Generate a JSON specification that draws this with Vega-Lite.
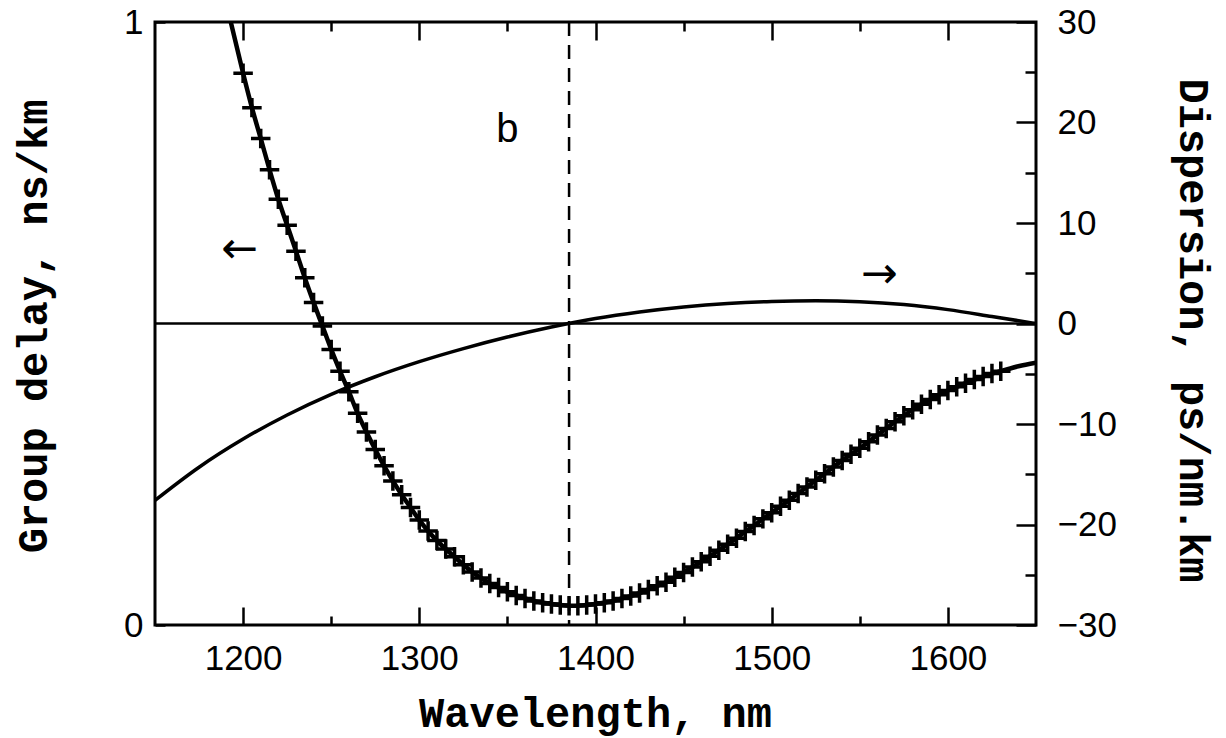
{
  "$schema": "https://vega.github.io/schema/vega-lite/v6.json",
  "width": 881,
  "height": 603,
  "autosize": {"type": "none"},
  "padding": {"left": 155, "top": 22, "right": 190, "bottom": 113},
  "background": "white",
  "config": {
    "view": {"stroke": "black", "strokeWidth": 3},
    "axis": {
      "domain": false,
      "grid": false,
      "tickColor": "black",
      "tickWidth": 2.5,
      "labelColor": "black",
      "labelFont": "Liberation Sans",
      "labelFontSize": 35,
      "titleColor": "black",
      "titleFont": "Liberation Mono",
      "titleFontWeight": "bold",
      "titleFontSize": 42
    }
  },
  "datasets": {
    "gd": [
      {"wl": 1193, "gd": 1.0},
      {"wl": 1200, "gd": 0.915}, {"wl": 1205, "gd": 0.858}, {"wl": 1210, "gd": 0.807}, {"wl": 1215, "gd": 0.755},
      {"wl": 1220, "gd": 0.706}, {"wl": 1225, "gd": 0.663}, {"wl": 1230, "gd": 0.620}, {"wl": 1235, "gd": 0.576},
      {"wl": 1240, "gd": 0.535}, {"wl": 1245, "gd": 0.496}, {"wl": 1250, "gd": 0.457}, {"wl": 1255, "gd": 0.421},
      {"wl": 1260, "gd": 0.387}, {"wl": 1265, "gd": 0.351}, {"wl": 1270, "gd": 0.320}, {"wl": 1275, "gd": 0.291},
      {"wl": 1280, "gd": 0.264}, {"wl": 1285, "gd": 0.239}, {"wl": 1290, "gd": 0.216}, {"wl": 1295, "gd": 0.195},
      {"wl": 1300, "gd": 0.174}, {"wl": 1305, "gd": 0.156}, {"wl": 1310, "gd": 0.140}, {"wl": 1315, "gd": 0.126},
      {"wl": 1320, "gd": 0.113}, {"wl": 1325, "gd": 0.100}, {"wl": 1330, "gd": 0.088}, {"wl": 1335, "gd": 0.078},
      {"wl": 1340, "gd": 0.069}, {"wl": 1345, "gd": 0.062}, {"wl": 1350, "gd": 0.055}, {"wl": 1355, "gd": 0.049},
      {"wl": 1360, "gd": 0.044}, {"wl": 1365, "gd": 0.040}, {"wl": 1370, "gd": 0.037}, {"wl": 1375, "gd": 0.035},
      {"wl": 1380, "gd": 0.033}, {"wl": 1385, "gd": 0.032}, {"wl": 1390, "gd": 0.032}, {"wl": 1395, "gd": 0.033},
      {"wl": 1400, "gd": 0.035}, {"wl": 1405, "gd": 0.037}, {"wl": 1410, "gd": 0.040}, {"wl": 1415, "gd": 0.044},
      {"wl": 1420, "gd": 0.048}, {"wl": 1425, "gd": 0.053}, {"wl": 1430, "gd": 0.059}, {"wl": 1435, "gd": 0.065},
      {"wl": 1440, "gd": 0.071}, {"wl": 1445, "gd": 0.079}, {"wl": 1450, "gd": 0.087}, {"wl": 1455, "gd": 0.096},
      {"wl": 1460, "gd": 0.105}, {"wl": 1465, "gd": 0.114}, {"wl": 1470, "gd": 0.124}, {"wl": 1475, "gd": 0.134},
      {"wl": 1480, "gd": 0.144}, {"wl": 1485, "gd": 0.155}, {"wl": 1490, "gd": 0.165}, {"wl": 1495, "gd": 0.176},
      {"wl": 1500, "gd": 0.186}, {"wl": 1505, "gd": 0.197}, {"wl": 1510, "gd": 0.207}, {"wl": 1515, "gd": 0.218},
      {"wl": 1520, "gd": 0.229}, {"wl": 1525, "gd": 0.240}, {"wl": 1530, "gd": 0.251}, {"wl": 1535, "gd": 0.262},
      {"wl": 1540, "gd": 0.273}, {"wl": 1545, "gd": 0.283}, {"wl": 1550, "gd": 0.293}, {"wl": 1555, "gd": 0.304},
      {"wl": 1560, "gd": 0.315}, {"wl": 1565, "gd": 0.326}, {"wl": 1570, "gd": 0.337}, {"wl": 1575, "gd": 0.347},
      {"wl": 1580, "gd": 0.357}, {"wl": 1585, "gd": 0.366}, {"wl": 1590, "gd": 0.374}, {"wl": 1595, "gd": 0.382},
      {"wl": 1600, "gd": 0.389}, {"wl": 1605, "gd": 0.395}, {"wl": 1610, "gd": 0.401}, {"wl": 1615, "gd": 0.407},
      {"wl": 1620, "gd": 0.412}, {"wl": 1625, "gd": 0.417}, {"wl": 1630, "gd": 0.421},
      {"wl": 1640, "gd": 0.429}, {"wl": 1650, "gd": 0.435}
    ],
    "disp": [
      {"wl": 1150, "d": -17.6}, {"wl": 1175, "d": -14.3}, {"wl": 1200, "d": -11.5}, {"wl": 1225, "d": -9.1},
      {"wl": 1250, "d": -7.05}, {"wl": 1275, "d": -5.3}, {"wl": 1300, "d": -3.8}, {"wl": 1325, "d": -2.5},
      {"wl": 1350, "d": -1.35}, {"wl": 1375, "d": -0.35}, {"wl": 1400, "d": 0.5}, {"wl": 1425, "d": 1.15},
      {"wl": 1450, "d": 1.65}, {"wl": 1475, "d": 2.0}, {"wl": 1500, "d": 2.2}, {"wl": 1525, "d": 2.27},
      {"wl": 1550, "d": 2.17}, {"wl": 1575, "d": 1.88}, {"wl": 1600, "d": 1.38}, {"wl": 1625, "d": 0.7},
      {"wl": 1650, "d": 0.0}
    ],
    "notes": [
      {"wl": 1350, "gd": 0.821, "t": "b"},
      {"wl": 1198, "gd": 0.622, "t": "←"},
      {"wl": 1561, "gd": 0.580, "t": "→"}
    ]
  },
  "layer": [
    {
      "data": {"name": "gd"},
      "mark": {"type": "line", "color": "black", "strokeWidth": 4.5, "interpolate": "monotone", "clip": true},
      "encoding": {
        "x": {
          "field": "wl", "type": "quantitative",
          "scale": {"domain": [1150, 1650], "nice": false, "zero": false},
          "axis": {
            "orient": "bottom",
            "values": [1200, 1300, 1400, 1500, 1600],
            "format": "d",
            "offset": -18,
            "tickSize": 18,
            "labelPadding": 16,
            "title": "Wavelength, nm",
            "titleX": 440,
            "titleY": 119,
            "titleBaseline": "alphabetic",
            "titleAlign": "center"
          }
        },
        "y": {
          "field": "gd", "type": "quantitative",
          "scale": {"domain": [0, 1], "nice": false},
          "axis": {
            "orient": "left",
            "values": [0, 0.1, 0.2, 0.3, 0.4, 0.5, 0.6, 0.7, 0.8, 0.9, 1],
            "format": "d",
            "offset": -10,
            "tickSize": 10,
            "labelExpr": "datum.value === 0 || datum.value === 1 ? datum.label : ''",
            "labelPadding": 12,
            "title": "Group delay, ns/km",
            "titleX": -132,
            "titleY": 304,
            "titleAngle": -90,
            "titleAlign": "center",
            "titleBaseline": "middle"
          }
        }
      }
    },
    {
      "data": {"name": "gd"},
      "transform": [{"filter": "datum.wl >= 1200 && datum.wl <= 1630"}],
      "mark": {"type": "point", "shape": "M-1,0H1M0,-1V1", "size": 380, "filled": false, "stroke": "black", "strokeWidth": 3.5, "opacity": 1},
      "encoding": {
        "x": {
          "field": "wl", "type": "quantitative",
          "scale": {"domain": [1150, 1650], "nice": false, "zero": false},
          "axis": {"orient": "bottom", "values": [1250, 1350, 1450, 1550], "offset": -9, "tickSize": 9, "labels": false, "title": null}
        },
        "y": {"field": "gd", "type": "quantitative", "scale": {"domain": [0, 1], "nice": false}, "axis": null}
      }
    },
    {
      "data": {"name": "disp"},
      "mark": {"type": "line", "color": "black", "strokeWidth": 3.5, "interpolate": "monotone"},
      "encoding": {
        "x": {"field": "wl", "type": "quantitative", "scale": {"domain": [1150, 1650], "nice": false, "zero": false}, "axis": null},
        "y": {
          "field": "d", "type": "quantitative",
          "scale": {"domain": [-30, 30], "nice": false},
          "axis": {
            "orient": "right",
            "values": [-30, -20, -10, 0, 10, 20, 30],
            "format": "d",
            "offset": -20,
            "tickSize": 20,
            "labelPadding": 21,
            "title": "Dispersion, ps/nm.km",
            "titleX": 176,
            "titleY": 308,
            "titleAngle": 90,
            "titleAlign": "center",
            "titleBaseline": "middle"
          }
        }
      }
    },
    {
      "data": {"values": [{"d": 0}]},
      "mark": {"type": "rule", "color": "black", "strokeWidth": 2.5},
      "encoding": {
        "y": {
          "field": "d", "type": "quantitative",
          "scale": {"domain": [-30, 30], "nice": false},
          "axis": {"orient": "right", "values": [-25, -15, -5, 5, 15, 25], "offset": -11, "tickSize": 11, "labels": false, "title": null}
        }
      }
    },
    {
      "data": {"values": [{"wl": 1385}]},
      "mark": {"type": "rule", "color": "black", "strokeWidth": 2.5, "strokeDash": [14, 9]},
      "encoding": {
        "x": {
          "field": "wl", "type": "quantitative",
          "scale": {"domain": [1150, 1650], "nice": false, "zero": false},
          "axis": {"orient": "top", "values": [1200, 1300, 1400, 1500, 1600], "offset": -18, "tickSize": 18, "labels": false, "title": null}
        }
      }
    },
    {
      "data": {"name": "notes"},
      "transform": [{"filter": "datum.t === 'b'"}],
      "mark": {"type": "text", "font": "Liberation Sans", "fontSize": 40, "color": "black", "align": "center", "baseline": "middle"},
      "encoding": {
        "x": {
          "field": "wl", "type": "quantitative",
          "scale": {"domain": [1150, 1650], "nice": false, "zero": false},
          "axis": {"orient": "top", "values": [1250, 1350, 1450, 1550], "offset": -9, "tickSize": 9, "labels": false, "title": null}
        },
        "y": {"field": "gd", "type": "quantitative", "scale": {"domain": [0, 1], "nice": false}, "axis": null},
        "text": {"field": "t"}
      }
    },
    {
      "data": {"name": "notes"},
      "transform": [{"filter": "datum.t !== 'b'"}],
      "mark": {"type": "text", "font": "DejaVu Sans", "fontSize": 44, "color": "black", "align": "center", "baseline": "middle"},
      "encoding": {
        "x": {"field": "wl", "type": "quantitative", "scale": {"domain": [1150, 1650], "nice": false, "zero": false}, "axis": null},
        "y": {"field": "gd", "type": "quantitative", "scale": {"domain": [0, 1], "nice": false}, "axis": null},
        "text": {"field": "t"}
      }
    }
  ],
  "resolve": {"scale": {"y": "independent"}, "axis": {"x": "independent", "y": "independent"}}
}
